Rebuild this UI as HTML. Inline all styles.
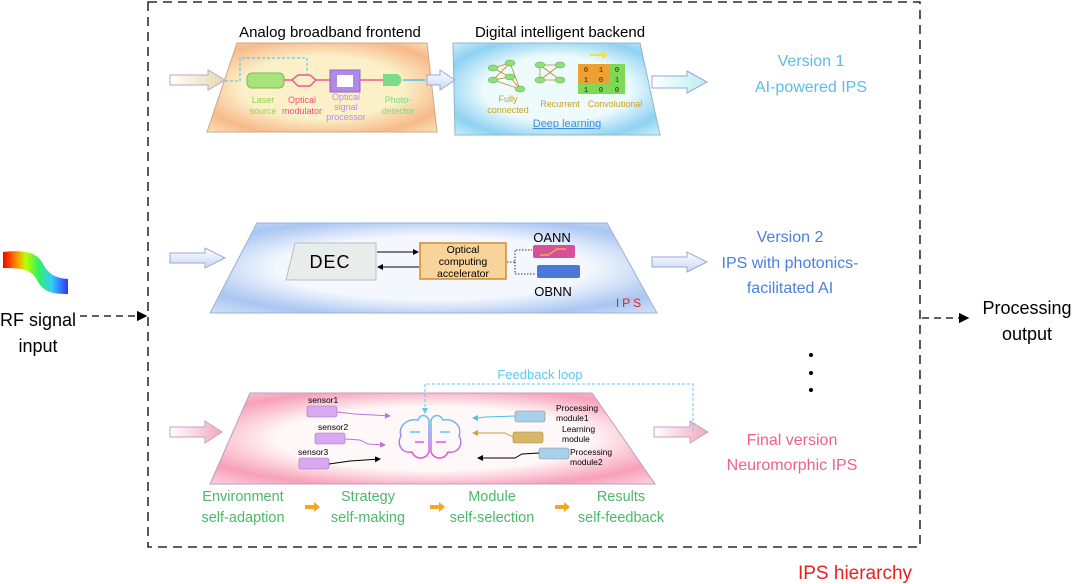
<!DOCTYPE html>
<html><head><meta charset="utf-8"><style>
html,body{margin:0;padding:0;background:#fff;}
svg{display:block;font-family:"Liberation Sans",sans-serif;}
</style></head><body>
<svg width="1080" height="584" viewBox="0 0 1080 584" xmlns="http://www.w3.org/2000/svg">
<defs>
<linearGradient id="rf" x1="0" x2="1"><stop offset="0" stop-color="#f00"/><stop offset=".2" stop-color="#f80"/><stop offset=".35" stop-color="#bf0"/><stop offset=".55" stop-color="#3e6"/><stop offset=".75" stop-color="#3cf"/><stop offset="1" stop-color="#33f"/></linearGradient>
<linearGradient id="arB" x1="0" y1="0" x2="0" y2="1"><stop offset="0" stop-color="#fff"/><stop offset="1" stop-color="#c8d8f4"/></linearGradient>
<linearGradient id="arP" x1="0" y1="0" x2="1" y2="0"><stop offset="0" stop-color="#fff"/><stop offset="1" stop-color="#f4a7c0"/></linearGradient>
<linearGradient id="arY" x1="0" y1="0" x2="1" y2="0"><stop offset="0" stop-color="#fff"/><stop offset="1" stop-color="#e8d8a8"/></linearGradient>
<linearGradient id="arC" x1="0" y1="0" x2="1" y2="0"><stop offset="0" stop-color="#fff"/><stop offset="1" stop-color="#b8eef0"/></linearGradient>
<radialGradient id="gOr" cx=".5" cy=".5" r=".7"><stop offset=".5" stop-color="#fcf0c8"/><stop offset=".8" stop-color="#f7b98a"/><stop offset="1" stop-color="#fbe3b8"/></radialGradient>
<radialGradient id="gCy" cx=".5" cy=".5" r=".7"><stop offset=".5" stop-color="#eefbfd"/><stop offset=".8" stop-color="#8ed2f2"/><stop offset="1" stop-color="#c9eefa"/></radialGradient>
<radialGradient id="gBl" cx=".5" cy=".5" r=".7"><stop offset=".5" stop-color="#f4f8fe"/><stop offset=".8" stop-color="#a9c6f2"/><stop offset="1" stop-color="#cfe0f8"/></radialGradient>
<radialGradient id="gPk" cx=".5" cy=".5" r=".7"><stop offset=".5" stop-color="#fff8f8"/><stop offset=".8" stop-color="#f7a0b8"/><stop offset="1" stop-color="#fbd0dc"/></radialGradient>
<linearGradient id="brain" x1="0" y1="0" x2="0" y2="1"><stop offset="0" stop-color="#5cc9f0"/><stop offset="1" stop-color="#e84fd8"/></linearGradient>
<marker id="ah" markerWidth="8" markerHeight="8" refX="7" refY="4" orient="auto"><path d="M0,0 L8,4 L0,8z" fill="#000"/></marker>
<marker id="ahs" markerWidth="6" markerHeight="6" refX="5" refY="3" orient="auto"><path d="M0,0 L6,3 L0,6z" fill="context-stroke"/></marker>
</defs>

<rect x="148" y="2" width="772" height="545" fill="none" stroke="#000" stroke-width="1.3" stroke-dasharray="9,6"/>

<path d="M3,252 C25,250 35,252 42,262 C48,274 55,278 68,279 L68,294 C52,294 44,292 38,282 C32,270 25,268 3,268z" fill="url(#rf)"/>
<text x="38" y="326" font-size="18" text-anchor="middle">RF signal</text>
<text x="38" y="352" font-size="18" text-anchor="middle">input</text>
<line x1="80" y1="316" x2="146" y2="316" stroke="#000" stroke-width="1.3" stroke-dasharray="7,5" marker-end="url(#ah)"/>

<line x1="922" y1="318" x2="968" y2="318" stroke="#000" stroke-width="1.3" stroke-dasharray="7,5" marker-end="url(#ah)"/>
<text x="1027" y="314" font-size="18" text-anchor="middle">Processing</text>
<text x="1027" y="340" font-size="18" text-anchor="middle">output</text>
<circle cx="811" cy="355" r="2" fill="#000"/><circle cx="811" cy="373" r="2" fill="#000"/><circle cx="811" cy="390" r="2" fill="#000"/>
<text x="855" y="579" font-size="19" fill="#e8201e" text-anchor="middle">IPS hierarchy</text>

<text x="330" y="37" font-size="15" text-anchor="middle">Analog broadband frontend</text>
<text x="560" y="37" font-size="15" text-anchor="middle">Digital intelligent backend</text>
<polygon points="237,43 427,43 437,132 207,132" fill="url(#gOr)" stroke="#c9a98a" stroke-width="1"/>
<polygon points="453,43 640,43 660,135 455,135" fill="url(#gCy)" stroke="#8fb8c8" stroke-width="1"/>
<path d="M170,75 L208,75 L208,70 L225,80 L208,90 L208,85 L170,85z" fill="url(#arY)" stroke="#b9a6c8"/>
<path d="M427,75 L440,75 L440,70 L455,80 L440,90 L440,85 L427,85z" fill="url(#arB)" stroke="#9aa6d8"/>
<path d="M652,76 L687,76 L687,71 L707,82 L687,93 L687,88 L652,88z" fill="url(#arC)" stroke="#9aa6d8"/>
<polyline points="225,81 240,81 240,58 307,58 307,75" fill="none" stroke="#4cc0ee" stroke-dasharray="3,2"/>
<rect x="247" y="73" width="37" height="15" rx="5" fill="#a6e37a" stroke="#7fb95a"/>
<path d="M284,80 L292,80 L298,75 L310,75 L316,80 L310,86 L298,86 L292,80 M316,80 L330,80" fill="none" stroke="#ef5a8a" stroke-width="1.5"/>
<rect x="330" y="70" width="30" height="22" fill="#b08ae8" stroke="#8b68c8"/>
<rect x="337" y="75" width="16" height="12" fill="#fff"/>
<line x1="360" y1="80" x2="383" y2="80" stroke="#ef5a8a" stroke-width="1.5"/>
<path d="M383,74 L398,74 Q405,80 398,86 L383,86z" fill="#7ddc8a"/>
<line x1="403" y1="80" x2="425" y2="80" stroke="#4cc0ee" stroke-width="1.5"/>
<g font-size="9" text-anchor="middle">
<text x="263" y="103" fill="#8ed44a">Laser</text><text x="263" y="114" fill="#8ed44a">source</text>
<text x="302" y="103" fill="#ef4f7f">Optical</text><text x="302" y="114" fill="#ef4f7f">modulator</text>
<text x="346" y="100" fill="#b48ef0">Optical</text><text x="346" y="110" fill="#b48ef0">signal</text><text x="346" y="120" fill="#b48ef0">processor</text>
<text x="398" y="103" fill="#6ddf7c">Photo-</text><text x="398" y="114" fill="#6ddf7c">detector</text>
</g>
<g stroke="#b88a30" stroke-width=".8">
<line x1="493" y1="68" x2="510" y2="63"/><line x1="493" y1="68" x2="510" y2="77"/><line x1="493" y1="80" x2="510" y2="63"/><line x1="493" y1="80" x2="510" y2="77"/><line x1="510" y1="63" x2="520" y2="89"/><line x1="510" y1="77" x2="520" y2="89"/><line x1="493" y1="80" x2="520" y2="89"/>
<line x1="540" y1="65" x2="560" y2="65"/><line x1="540" y1="65" x2="560" y2="80"/><line x1="540" y1="80" x2="560" y2="65"/><line x1="540" y1="80" x2="560" y2="80"/><line x1="540" y1="65" x2="540" y2="80"/>
</g>
<g fill="#8fe07a" stroke="#5aa04a" stroke-width=".5">
<ellipse cx="493" cy="68" rx="5" ry="3"/><ellipse cx="493" cy="80" rx="5" ry="3"/><ellipse cx="510" cy="63" rx="5" ry="3"/><ellipse cx="510" cy="77" rx="5" ry="3"/><ellipse cx="520" cy="89" rx="5" ry="3"/>
<ellipse cx="540" cy="65" rx="5" ry="3"/><ellipse cx="560" cy="65" rx="5" ry="3"/><ellipse cx="540" cy="80" rx="5" ry="3"/><ellipse cx="560" cy="80" rx="5" ry="3"/>
</g>
<path d="M590,54 L602,54 L602,51 L608,55 L602,59 L602,56 L590,56z" fill="#f4e040"/>
<rect x="578" y="64" width="47" height="30" fill="#7ed957"/>
<rect x="578" y="64" width="31" height="20" fill="#f0a030"/>
<g font-size="7" font-family="Liberation Mono,monospace" text-anchor="middle" fill="#222">
<text x="586" y="72">0</text><text x="601" y="72">1</text><text x="617" y="72">0</text>
<text x="586" y="82">1</text><text x="601" y="82">0</text><text x="617" y="82">1</text>
<text x="586" y="92">1</text><text x="601" y="92">0</text><text x="617" y="92">0</text>
</g>
<g font-size="9" fill="#c9a020" text-anchor="middle">
<text x="508" y="102">Fully</text><text x="508" y="113">connected</text>
<text x="560" y="107">Recurrent</text><text x="615" y="107">Convolutional</text>
</g>
<text x="567" y="127" font-size="11" fill="#3a8ee0" text-anchor="middle" text-decoration="underline">Deep learning</text>
<text x="811" y="66" font-size="16" fill="#5bbde8" text-anchor="middle">Version 1</text>
<text x="811" y="92" font-size="16" fill="#5bbde8" text-anchor="middle">AI-powered IPS</text>

<polygon points="257,223 607,223 657,313 210,313" fill="url(#gBl)" stroke="#9ab0d8"/>
<path d="M170,253 L205,253 L205,248 L225,258 L205,268 L205,263 L170,263z" fill="url(#arB)" stroke="#9aa6d8"/>
<path d="M652,257 L687,257 L687,252 L707,262 L687,272 L687,267 L652,267z" fill="url(#arB)" stroke="#9aa6d8"/>
<polygon points="295,243 376,243 376,280 286,280" fill="#e8ecea" stroke="#b8c0c0"/>
<text x="330" y="268" font-size="18" text-anchor="middle" letter-spacing="1">DEC</text>
<line x1="377" y1="252" x2="418" y2="252" stroke="#000" marker-end="url(#ahs)"/>
<line x1="419" y1="267" x2="378" y2="267" stroke="#000" marker-end="url(#ahs)"/>
<rect x="420" y="243" width="86" height="36" fill="#f8d49a" stroke="#d08a30" stroke-width="1.5"/>
<g font-size="10.5" text-anchor="middle"><text x="463" y="253">Optical</text><text x="463" y="265">computing</text><text x="463" y="277">accelerator</text></g>
<path d="M507,262 L515,262 L515,250 L532,250 M515,262 L515,274 L536,274" fill="none" stroke="#333" stroke-dasharray="1.5,1.5"/>
<rect x="533" y="245" width="42" height="13" rx="2" fill="#d8509a"/>
<path d="M540,255 L548,255 L557,249 L566,249" stroke="#f0c040" fill="none" stroke-width="1.2"/>
<rect x="537" y="265" width="43" height="13" rx="2" fill="#4a78d8"/>
<text x="552" y="242" font-size="13" text-anchor="middle">OANN</text>
<text x="553" y="296" font-size="13" text-anchor="middle">OBNN</text>
<text x="630" y="307" font-size="12" fill="#e8201e" text-anchor="middle" letter-spacing="3">IPS</text>
<text x="790" y="242" font-size="16" fill="#4a7fe0" text-anchor="middle">Version 2</text>
<text x="790" y="268" font-size="16" fill="#4a7fe0" text-anchor="middle">IPS with photonics-</text>
<text x="790" y="293" font-size="16" fill="#4a7fe0" text-anchor="middle">facilitated AI</text>

<polygon points="250,393 592,393 655,484 210,484" fill="url(#gPk)" stroke="#b8a0c8"/>
<path d="M170,427 L205,427 L205,421 L222,432 L205,443 L205,437 L170,437z" fill="url(#arP)" stroke="#c8a0c8"/>
<path d="M654,427 L690,427 L690,421 L708,432 L690,443 L690,437 L654,437z" fill="url(#arP)" stroke="#c8a0c8"/>
<polyline points="425,412 425,384 693,384 693,432" fill="none" stroke="#5cc9f0" stroke-dasharray="3,2"/>
<path d="M422,408 L425,414 L428,408z" fill="#5cc9f0"/>
<text x="540" y="379" font-size="13" fill="#5cc9f0" text-anchor="middle">Feedback loop</text>
<g font-size="8.5">
<text x="308" y="403">sensor1</text><text x="318" y="430">sensor2</text><text x="298" y="455">sensor3</text>
</g>
<rect x="307" y="406" width="30" height="11" rx="2" fill="#d8a8f0" stroke="#9a78c0" stroke-width=".6"/>
<rect x="315" y="433" width="30" height="11" rx="2" fill="#d8a8f0" stroke="#9a78c0" stroke-width=".6"/>
<rect x="299" y="458" width="30" height="11" rx="2" fill="#d8a8f0" stroke="#9a78c0" stroke-width=".6"/>
<path d="M337,412 L355,414 L390,416" stroke="#c070e0" fill="none" marker-end="url(#ahs)"/>
<path d="M345,439 L360,440 L368,444 L385,445" stroke="#c070e0" fill="none" marker-end="url(#ahs)"/>
<path d="M329,464 L350,461 L380,459" stroke="#000" fill="none" marker-end="url(#ahs)"/>
<g fill="none" stroke="url(#brain)" stroke-width="1.5">
<path d="M418,420 C405,418 398,428 401,436 C396,444 402,454 412,452 C415,460 426,460 429,452 L429,420 C426,414 420,414 418,420z"/>
<path d="M431,420 C434,414 440,414 443,420 C456,418 462,428 459,436 C464,444 458,454 448,452 C445,460 434,460 431,452z"/>
<path d="M410,432 L420,432 M415,442 L424,442 M440,432 L450,432 M436,442 L446,442"/>
</g>
<g font-size="8.5">
<text x="556" y="411">Processing</text><text x="556" y="421">module1</text>
<text x="562" y="432">Learning</text><text x="562" y="442">module</text>
<text x="570" y="455">Processing</text><text x="570" y="465">module2</text>
</g>
<rect x="515" y="411" width="30" height="11" rx="2" fill="#a8d0e8" stroke="#7898b0" stroke-width=".6"/>
<rect x="513" y="432" width="30" height="11" rx="2" fill="#d8b868" stroke="#a08840" stroke-width=".6"/>
<rect x="539" y="448" width="30" height="11" rx="2" fill="#a8d0e8" stroke="#7898b0" stroke-width=".6"/>
<path d="M515,416 L485,417 L478,418 L473,418" stroke="#4cc0ee" fill="none" marker-end="url(#ahs)"/>
<path d="M513,437 L505,433 L473,433" stroke="#c8a040" fill="none" marker-end="url(#ahs)"/>
<path d="M539,453 L522,454 L515,458 L478,458" stroke="#000" fill="none" marker-end="url(#ahs)"/>
<text x="792" y="445" font-size="16" fill="#f0608a" text-anchor="middle">Final version</text>
<text x="792" y="470" font-size="16" fill="#f0608a" text-anchor="middle">Neuromorphic IPS</text>
<g font-size="14.5" fill="#4cb86a" text-anchor="middle">
<text x="243" y="501">Environment</text><text x="243" y="522">self-adaption</text>
<text x="368" y="501">Strategy</text><text x="368" y="522">self-making</text>
<text x="492" y="501">Module</text><text x="492" y="522">self-selection</text>
<text x="621" y="501">Results</text><text x="621" y="522">self-feedback</text>
</g>
<g fill="#f5a623">
<path d="M305,505 L314,505 L314,502 L320,507 L314,512 L314,509 L305,509z"/>
<path d="M430,505 L439,505 L439,502 L445,507 L439,512 L439,509 L430,509z"/>
<path d="M555,505 L564,505 L564,502 L570,507 L564,512 L564,509 L555,509z"/>
</g>
</svg>
</body></html>
